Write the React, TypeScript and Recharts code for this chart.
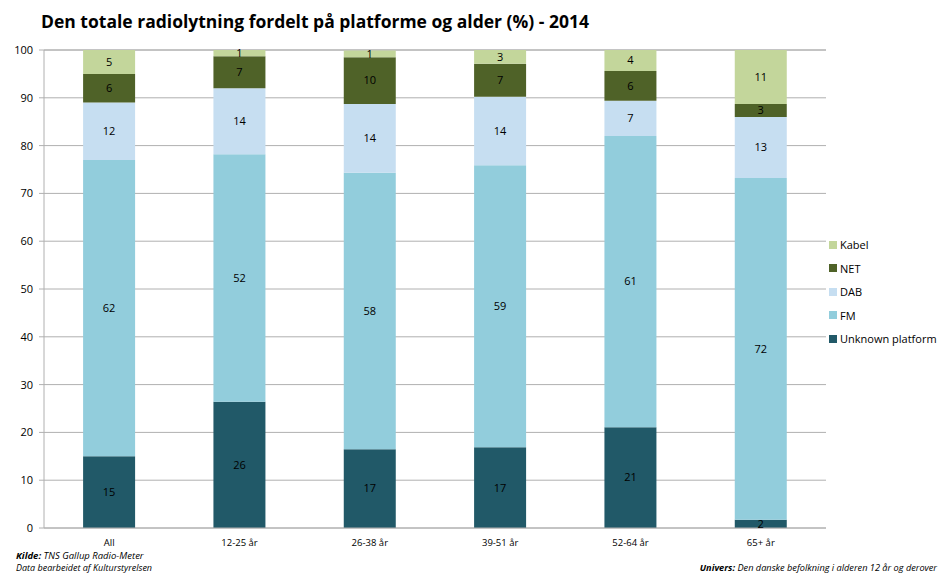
import React from 'react';
import { BarChart, Bar, XAxis, YAxis, CartesianGrid, LabelList } from 'recharts';

const categories = ['All', '12-25 år', '26-38 år', '39-51 år', '52-64 år', '65+ år'];
const unknownPlatform = [15, 26.4, 16.5, 16.9, 21.1, 1.7];
const fm = [62, 51.8, 57.8, 59, 60.9, 71.5];
const dab = [12, 13.8, 14.4, 14.3, 7.4, 12.8];
const net = [6, 6.7, 9.8, 6.9, 6.2, 2.7];
const kabel = [5, 1.3, 1.4, 2.9, 4.4, 11.3];
const yTicks = [0, 10, 20, 30, 40, 50, 60, 70, 80, 90, 100];

const series = [
  { key: 'unknown', name: 'Unknown platform', color: '#215968', values: unknownPlatform },
  { key: 'fm', name: 'FM', color: '#92CDDC', values: fm },
  { key: 'dab', name: 'DAB', color: '#C6DEF1', values: dab },
  { key: 'net', name: 'NET', color: '#4F6228', values: net },
  { key: 'kabel', name: 'Kabel', color: '#C3D69B', values: kabel },
];

const data = categories.map((c, i) => {
  const row: any = { category: c };
  series.forEach((s) => { row[s.key] = s.values[i]; });
  return row;
});

const FONT = "'Open Sans', 'Liberation Sans', sans-serif";

export default function App() {
  return (
    <div style={{ position: 'absolute', left: 0, top: 0, width: 939, height: 573, background: '#fff', overflow: 'hidden' }}>
      <div style={{ position: 'absolute', left: 0, width: 630, top: 9, textAlign: 'center', fontFamily: FONT, fontWeight: 700, fontSize: 17.5, color: '#000' }}>
        Den totale radiolytning fordelt på platforme og alder (%) - 2014
      </div>
      <BarChart
        width={939}
        height={573}
        data={data}
        margin={{ top: 50, right: 113, left: 0, bottom: 0 }}
        barCategoryGap="30%"
      >
        <CartesianGrid vertical={false} stroke="#B0B0B0" />
        <XAxis
          dataKey="category"
          height={45}
          tickLine={false}
          axisLine={{ stroke: '#B0B0B0' }}
          tick={{ fontFamily: FONT, fontSize: 9.5, fill: '#000' }}
          tickMargin={5}
        />
        <YAxis
          width={44}
          domain={[0, 100]}
          ticks={yTicks}
          interval={0}
          tickLine={{ stroke: '#B0B0B0' }}
          tickSize={5}
          axisLine={{ stroke: '#B0B0B0' }}
          tick={{ fontFamily: FONT, fontSize: 11, fill: '#000' }}
          tickMargin={6}
        />
        {series.map((s) => (
          <Bar key={s.key} dataKey={s.key} name={s.name} stackId="a" fill={s.color} isAnimationActive={false}>
            <LabelList
              dataKey={s.key}
              position="center"
              formatter={(v: any) => Math.round(Number(v))}
              style={{ fontFamily: FONT, fontSize: 11, fill: '#000' }}
            />
          </Bar>
        ))}
      </BarChart>
      <div style={{ position: 'absolute', left: 829, top: 233, fontFamily: FONT, fontSize: 11, color: '#000' }}>
        {[...series].reverse().map((s) => (
          <div key={s.key} style={{ display: 'flex', alignItems: 'center', height: 23.5 }}>
            <span style={{ display: 'inline-block', width: 8, height: 8, background: s.color, marginRight: 3 }} />
            <span>{s.name}</span>
          </div>
        ))}
      </div>
      <div style={{ position: 'absolute', left: 16, top: 549, lineHeight: '13px', fontFamily: FONT, fontSize: 9.5, fontStyle: 'italic', color: '#000', whiteSpace: 'nowrap' }}>
        <b>Kilde:</b> TNS Gallup Radio-Meter
      </div>
      <div style={{ position: 'absolute', left: 16, top: 562, lineHeight: '12px', fontFamily: FONT, fontSize: 9, fontStyle: 'italic', color: '#000', whiteSpace: 'nowrap' }}>
        Data bearbeidet af  Kulturstyrelsen
      </div>
      <div style={{ position: 'absolute', right: 2, top: 562, lineHeight: '12px', fontFamily: FONT, fontSize: 9.2, fontStyle: 'italic', color: '#000', whiteSpace: 'nowrap' }}>
        <b>Univers:</b>  Den danske befolkning i alderen 12 år og derover
      </div>
    </div>
  );
}
